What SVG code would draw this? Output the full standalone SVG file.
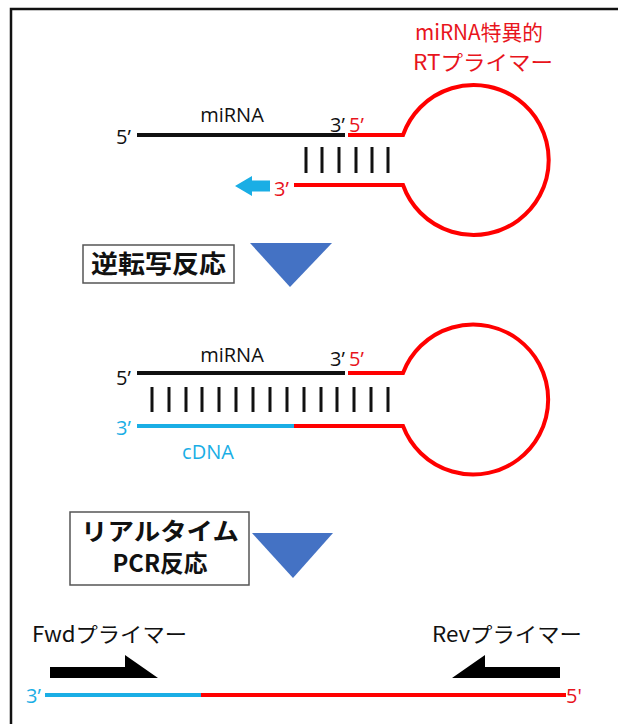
<svg xmlns="http://www.w3.org/2000/svg" width="618" height="724" viewBox="0 0 618 724">
<style>
.t{font-family:"Noto Sans CJK JP","Noto Sans",sans-serif;}
.lat{font-family:"Open Sans","Noto Sans","Noto Sans CJK JP",sans-serif;}
.blk{fill:#111;}
.red{fill:#E8141C;}
.cyn{fill:#1AAEE5;}
.strand{fill:none;stroke-width:4;}
.bar{stroke:#111;stroke-width:3;}
.box{fill:#fff;stroke:#555;stroke-width:1.5;}
.tri{fill:#4472C4;}
.bold{font-weight:700;fill:#111;}
</style>
<rect width="618" height="724" fill="#fff"/>
<path d="M11 724 V9 H618" fill="none" stroke="#111" stroke-width="2.5"/>

<g id="title">
<text class="t red" x="479" y="40" font-size="21" text-anchor="middle" textLength="128" lengthAdjust="spacingAndGlyphs">miRNA特異的</text>
<text class="t red" x="483" y="70" font-size="21" text-anchor="middle" textLength="140" lengthAdjust="spacingAndGlyphs">RTプライマー</text>
</g>

<g id="stage1">
<line class="strand" x1="137" y1="135" x2="345" y2="135" stroke="#111"/>
<path class="strand" d="M348 135 H403 A75 75 0 1 1 403 185 H294" stroke="#FF0000"/>
<g>
<line class="bar" x1="306" y1="147" x2="306" y2="173"/>
<line class="bar" x1="322" y1="147" x2="322" y2="173"/>
<line class="bar" x1="339" y1="147" x2="339" y2="173"/>
<line class="bar" x1="356" y1="147" x2="356" y2="173"/>
<line class="bar" x1="372" y1="147" x2="372" y2="173"/>
<line class="bar" x1="388" y1="147" x2="388" y2="173"/>
</g>
<polygon points="235,186 252,176 252,180.5 270,180.5 270,191.5 252,191.5 252,196" fill="#1AAEE5"/>
<text class="lat blk" x="232" y="122" font-size="20" text-anchor="middle">miRNA</text>
<text class="lat blk" x="116" y="144" font-size="20">5’</text>
<text class="lat blk" x="330" y="132" font-size="20">3’</text>
<text class="lat red" x="349" y="132" font-size="20">5’</text>
<text class="lat red" x="274" y="196" font-size="20">3’</text>
</g>

<g id="step1">
<rect class="box" x="83" y="245" width="151" height="38"/>
<text class="t bold" x="158.5" y="273" font-size="25" text-anchor="middle" textLength="135" lengthAdjust="spacingAndGlyphs">逆転写反応</text>
<polygon class="tri" points="250,243 332,243 290,287"/>
</g>

<g id="stage2">
<line class="strand" x1="137" y1="373" x2="345" y2="373" stroke="#111"/>
<path class="strand" d="M348 373 H403 A75 75 0 1 1 403 426 H293" stroke="#FF0000"/>
<line class="strand" x1="137" y1="426" x2="294" y2="426" stroke="#1AAEE5"/>
<g>
<line class="bar" x1="152" y1="387" x2="152" y2="412"/>
<line class="bar" x1="169" y1="387" x2="169" y2="412"/>
<line class="bar" x1="186" y1="387" x2="186" y2="412"/>
<line class="bar" x1="202" y1="387" x2="202" y2="412"/>
<line class="bar" x1="219" y1="387" x2="219" y2="412"/>
<line class="bar" x1="236" y1="387" x2="236" y2="412"/>
<line class="bar" x1="253" y1="387" x2="253" y2="412"/>
<line class="bar" x1="270" y1="387" x2="270" y2="412"/>
<line class="bar" x1="287" y1="387" x2="287" y2="412"/>
<line class="bar" x1="304" y1="387" x2="304" y2="412"/>
<line class="bar" x1="321" y1="387" x2="321" y2="412"/>
<line class="bar" x1="337" y1="387" x2="337" y2="412"/>
<line class="bar" x1="354" y1="387" x2="354" y2="412"/>
<line class="bar" x1="371" y1="387" x2="371" y2="412"/>
<line class="bar" x1="388" y1="387" x2="388" y2="412"/>
</g>
<text class="lat blk" x="232" y="362" font-size="20" text-anchor="middle">miRNA</text>
<text class="lat blk" x="116" y="385" font-size="20">5’</text>
<text class="lat blk" x="330" y="366" font-size="20">3’</text>
<text class="lat red" x="349" y="366" font-size="20">5’</text>
<text class="lat cyn" x="116" y="435" font-size="20">3’</text>
<text class="lat cyn" x="208" y="459" font-size="20" text-anchor="middle">cDNA</text>
</g>

<g id="step2">
<rect class="box" x="70" y="512" width="179" height="73"/>
<text class="t bold" x="160" y="540" font-size="24" text-anchor="middle" textLength="158" lengthAdjust="spacingAndGlyphs">リアルタイム</text>
<text class="t bold" x="160" y="572" font-size="24" text-anchor="middle" textLength="95" lengthAdjust="spacingAndGlyphs">PCR反応</text>
<polygon class="tri" points="252,533 333,533 293,578"/>
</g>

<g id="stage3">
<line class="strand" x1="45" y1="695" x2="203" y2="695" stroke="#1AAEE5"/>
<line class="strand" x1="201" y1="695" x2="566" y2="695" stroke="#FF0000"/>
<polygon id="fwd-arrow" points="50,667 125,667 125,655 158,678 50,678" fill="#000"/>
<polygon id="rev-arrow" points="560,667 485,667 485,655 452,678 560,678" fill="#000"/>
<text class="t blk" x="32" y="642" font-size="21" textLength="155" lengthAdjust="spacingAndGlyphs">Fwdプライマー</text>
<text class="t blk" x="432" y="642" font-size="21" textLength="150" lengthAdjust="spacingAndGlyphs">Revプライマー</text>
<text class="lat cyn" x="26" y="703" font-size="20">3’</text>
<text class="lat red" x="566" y="703" font-size="20">5'</text>
</g>
</svg>
